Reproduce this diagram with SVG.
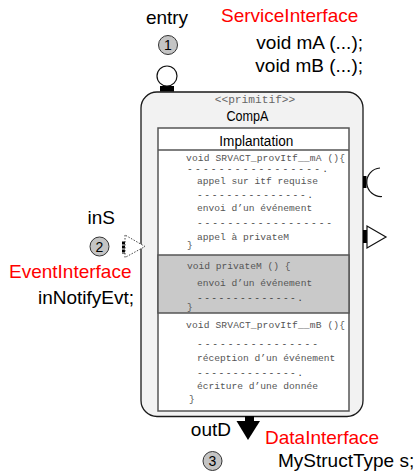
<svg xmlns="http://www.w3.org/2000/svg" width="420" height="472" viewBox="0 0 420 472">
  <style>
    .lbl { font-family: "Liberation Sans", Arial, sans-serif; font-size: 19px; fill: #000; }
    .red { fill: #ff0000; }
    .num { font-family: "Liberation Sans", Arial, sans-serif; font-size: 14px; fill: #000; text-anchor: middle; }
    .badge { fill: #c4c4c4; stroke: #333; stroke-width: 1; }
    .code { font-family: "Liberation Mono", "Courier New", monospace; font-size: 9.6px; fill: #555; }
    .dash { font-family: "Liberation Mono", "Courier New", monospace; font-size: 9.6px; fill: #333; }
    .port { fill: #000; }
    .line { fill: none; stroke: #111; stroke-width: 1.2; }
  </style>

  <rect width="420" height="472" fill="#ffffff"/>

  <!-- component CompA -->
  <g id="compA">
    <rect x="141" y="92" width="222" height="324.5" rx="16" ry="16" fill="#f2f2f2" stroke="#1a1a1a" stroke-width="1.3"/>
    <text x="255" y="102.5" text-anchor="middle" font-family="'Liberation Mono', 'Courier New', monospace" font-size="11.2" fill="#666">&lt;&lt;primitif&gt;&gt;</text>
    <text x="247.5" y="120.5" text-anchor="middle" font-family="'Liberation Sans', Arial, sans-serif" font-size="15.5" textLength="42" lengthAdjust="spacingAndGlyphs" fill="#000">CompA</text>

    <!-- implementation box -->
    <g id="implantation">
      <rect x="158" y="128" width="191" height="283" fill="#ffffff" stroke="#555" stroke-width="1.5"/>
      <rect x="158" y="255" width="191" height="58" fill="#c9c9c9" stroke="#555" stroke-width="1.5"/>
      <line x1="158" y1="150" x2="349" y2="150" stroke="#555" stroke-width="1.5"/>
      <text x="256.3" y="146" text-anchor="middle" font-family="'Liberation Sans', Arial, sans-serif" font-size="15.5" textLength="74" lengthAdjust="spacingAndGlyphs" fill="#000">Implantation</text>

      <!-- SRVACT_provItf__mA -->
      <text class="code" x="186" y="161" textLength="159" lengthAdjust="spacing">void SRVACT_provItf__mA (){</text>
      <text class="dash" x="187" y="171.5" textLength="141" lengthAdjust="spacing">-----------------.</text>
      <text class="code" x="197" y="184">appel sur itf requise</text>
      <text class="dash" x="197" y="197.5" textLength="116" lengthAdjust="spacing">---------------.</text>
      <text class="code" x="197" y="211">envoi d’un événement</text>
      <text class="dash" x="197" y="225.5" textLength="135" lengthAdjust="spacing">------------------</text>
      <text class="code" x="197" y="240">appel à privateM</text>
      <text class="code" x="187" y="248">}</text>

      <!-- privateM -->
      <text class="code" x="187" y="269">void privateM () {</text>
      <text class="code" x="197" y="286">envoi d’un événement</text>
      <text class="dash" x="197" y="300.5" textLength="106" lengthAdjust="spacing">--------------.</text>
      <text class="code" x="187" y="310">}</text>

      <!-- SRVACT_provItf__mB -->
      <text class="code" x="186" y="328" textLength="159" lengthAdjust="spacing">void SRVACT_provItf__mB (){</text>
      <text class="dash" x="197" y="346.5" textLength="121" lengthAdjust="spacing">----------------</text>
      <text class="code" x="197" y="361">réception d’un événement</text>
      <text class="dash" x="197" y="375.5" textLength="106" lengthAdjust="spacing">--------------.</text>
      <text class="code" x="197" y="389">écriture d’une donnée</text>
      <text class="code" x="189" y="402">}</text>
    </g>
  </g>

  <!-- entry: provided service interface (top) -->
  <g id="port-entry">
    <rect class="port" x="160" y="86" width="14" height="5.5"/>
    <circle cx="167" cy="76" r="10" fill="#ffffff" stroke="#111" stroke-width="1.2"/>
    <text class="lbl" x="167" y="23.5" text-anchor="middle">entry</text>
    <circle class="badge" cx="168" cy="45" r="9.5"/>
    <text class="num" x="168" y="50">1</text>
  </g>

  <g id="label-service">
    <text class="lbl red" x="221" y="22">ServiceInterface</text>
    <text class="lbl" x="363" y="48.5" text-anchor="end">void mA (...);</text>
    <text class="lbl" x="363" y="72" text-anchor="end">void mB (...);</text>
  </g>

  <!-- required service interface (right, socket) -->
  <g id="port-required">
    <rect class="port" x="363" y="176" width="3.5" height="12"/>
    <path class="line" d="M 380 168 A 14 14 0 0 0 382 196.5"/>
  </g>

  <!-- event output (right) -->
  <g id="port-evtOut">
    <rect class="port" x="363" y="230" width="4" height="13"/>
    <polygon points="367,226 367,248 386,237" fill="#ffffff" stroke="#111" stroke-width="1.2"/>
  </g>

  <!-- inS: event input (left) -->
  <g id="port-inS">
    <line x1="123.5" y1="241.5" x2="123.5" y2="254" stroke="#000" stroke-width="3" stroke-dasharray="3,1"/>
    <polygon points="125,235 125,257.5 145,246.5" fill="#ffffff" stroke="#333" stroke-width="0.9" stroke-dasharray="1.5,1.5"/>
    <text class="lbl" x="115" y="224" text-anchor="end">inS</text>
    <circle class="badge" cx="99.5" cy="246.5" r="9.5"/>
    <text class="num" x="99.5" y="251.5">2</text>
  </g>

  <g id="label-event">
    <text class="lbl red" x="131.5" y="278" text-anchor="end">EventInterface</text>
    <text class="lbl" x="134" y="303.5" text-anchor="end">inNotifyEvt;</text>
  </g>

  <!-- outD: data output (bottom) -->
  <g id="port-outD">
    <rect class="port" x="245" y="416" width="9" height="5.5"/>
    <polygon class="port" points="236.5,421 260,421 248,440"/>
    <text class="lbl" x="231" y="436" text-anchor="end">outD</text>
    <circle class="badge" cx="212.5" cy="461" r="9.5"/>
    <text class="num" x="212.5" y="466">3</text>
  </g>

  <g id="label-data">
    <text class="lbl red" x="265" y="443.5">DataInterface</text>
    <text class="lbl" x="278" y="467">MyStructType s;</text>
  </g>

  <!-- no connectors between nodes in this view -->
  <g id="connectors"/>
</svg>
